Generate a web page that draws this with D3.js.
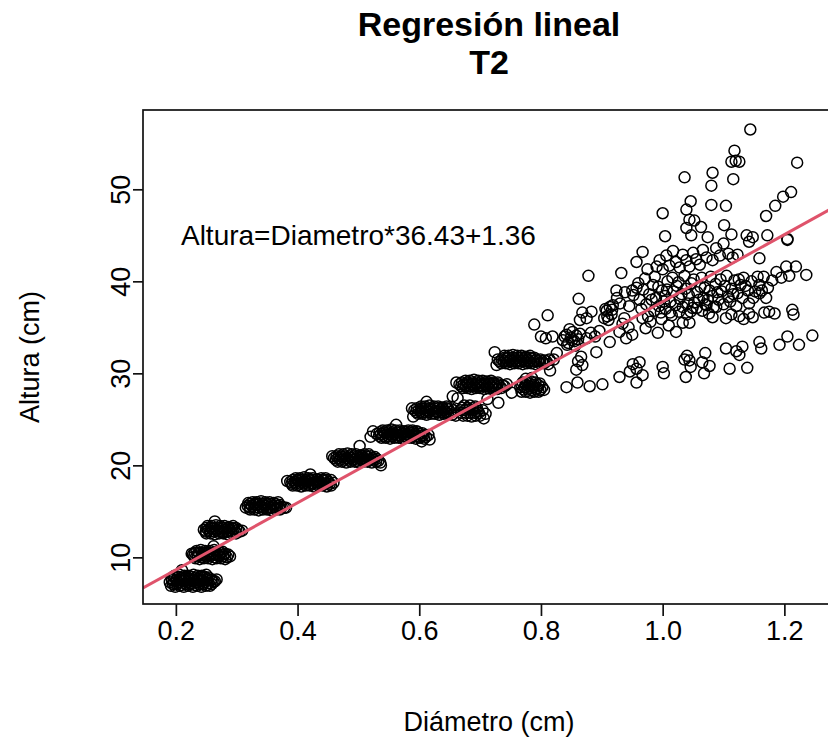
<!DOCTYPE html>
<html>
<head>
<meta charset="utf-8">
<script src="https://cdn.jsdelivr.net/npm/d3@7"></script>
<style>
  body { margin: 0; background: #fff; }
  text { font-family: "Liberation Sans", Arial, sans-serif; fill: #000; }
</style>
</head>
<body>
<div id="chart"></div>
<script>
// Diametro (cm), Altura (cm), grouped by the visible clumps
const band7 = [
  [0.192,6.9],[0.199,6.8],[0.206,6.9],[0.213,6.8],[0.220,6.9],[0.228,6.8],[0.235,6.9],[0.242,6.8],[0.249,6.9],[0.256,6.9],
  [0.195,7.1],[0.202,7.1],[0.209,7.0],[0.216,7.1],[0.224,7.1],[0.231,7.0],[0.238,7.1],[0.245,7.1],[0.252,7.0],[0.259,7.1],
  [0.190,7.3],[0.197,7.2],[0.204,7.3],[0.211,7.4],[0.219,7.3],[0.226,7.2],[0.233,7.3],[0.240,7.4],[0.247,7.3],[0.254,7.2],[0.262,7.3],
  [0.194,7.5],[0.201,7.5],[0.208,7.5],[0.215,7.5],[0.222,7.5],[0.230,7.5],[0.237,7.5],[0.244,7.5],[0.251,7.5],[0.258,7.5],[0.264,7.4],
  [0.193,7.7],[0.201,7.6],[0.208,7.7],[0.215,7.8],[0.222,7.7],[0.229,7.6],[0.237,7.7],[0.244,7.8],[0.251,7.7],[0.259,7.6],[0.267,7.6],
  [0.196,7.9],[0.204,7.9],[0.211,7.8],[0.218,7.9],[0.225,7.9],[0.233,7.8],[0.240,7.9],[0.247,7.9],[0.254,7.8],
  [0.198,8.0],[0.206,8.1],[0.214,8.0],[0.221,8.0],[0.229,8.1],[0.236,8.0],[0.243,8.0],[0.250,8.1],
  [0.210,8.6]
];
const band10 = [
  [0.232,9.9],[0.239,9.8],[0.246,9.9],[0.253,9.9],[0.260,9.8],[0.267,9.9],[0.274,9.9],[0.281,9.8],
  [0.230,10.1],[0.236,10.1],[0.243,10.0],[0.250,10.1],[0.257,10.1],[0.264,10.0],[0.271,10.1],[0.278,10.1],[0.284,10.0],
  [0.228,10.3],[0.236,10.3],[0.243,10.2],[0.250,10.3],[0.257,10.4],[0.264,10.3],[0.271,10.2],[0.278,10.3],[0.286,10.3],
  [0.231,10.5],[0.238,10.5],[0.245,10.5],[0.252,10.5],[0.260,10.5],[0.267,10.5],[0.274,10.5],[0.281,10.4],
  [0.234,10.7],[0.241,10.8],[0.248,10.7],[0.256,10.7],[0.263,10.8],[0.270,10.7],[0.277,10.6],
  [0.226,10.4],[0.289,10.1],[0.262,11.2]
];
const band13 = [
  [0.250,12.6],[0.257,12.6],[0.264,12.5],[0.271,12.6],[0.278,12.6],[0.285,12.5],[0.292,12.6],[0.299,12.6],
  [0.249,12.8],[0.256,12.8],[0.263,12.8],[0.270,12.8],[0.277,12.7],[0.284,12.8],[0.291,12.8],[0.298,12.8],[0.305,12.8],
  [0.246,13.0],[0.253,13.0],[0.260,13.1],[0.267,13.0],[0.274,12.9],[0.281,13.0],[0.288,13.0],[0.295,13.1],[0.302,13.0],[0.309,12.9],
  [0.250,13.2],[0.257,13.2],[0.264,13.2],[0.271,13.2],[0.278,13.2],[0.285,13.2],[0.292,13.2],[0.299,13.2],
  [0.252,13.4],[0.259,13.4],[0.266,13.5],[0.273,13.4],[0.280,13.4],[0.287,13.3],[0.294,13.4],
  [0.264,13.9]
];
const band15 = [
  [0.322,15.2],[0.329,15.2],[0.336,15.1],[0.343,15.2],[0.350,15.2],[0.357,15.1],[0.364,15.2],[0.371,15.2],
  [0.322,15.4],[0.329,15.4],[0.336,15.4],[0.343,15.4],[0.350,15.3],[0.357,15.4],[0.364,15.4],[0.371,15.4],[0.378,15.4],
  [0.318,15.6],[0.325,15.6],[0.332,15.7],[0.339,15.6],[0.346,15.6],[0.353,15.5],[0.360,15.6],[0.367,15.6],[0.374,15.5],[0.381,15.4],
  [0.322,15.8],[0.329,15.8],[0.336,15.8],[0.343,15.8],[0.350,15.8],[0.357,15.8],[0.364,15.8],[0.371,15.7],
  [0.326,16.0],[0.333,16.0],[0.340,16.1],[0.347,16.0],[0.354,16.0],[0.361,15.9],[0.368,16.0],
  [0.315,15.4],[0.319,15.9]
];
const band18 = [
  [0.392,17.8],[0.399,17.8],[0.406,17.7],[0.413,17.8],[0.420,17.8],[0.427,17.7],[0.434,17.8],[0.441,17.8],[0.448,17.7],[0.455,17.8],
  [0.390,18.0],[0.397,18.0],[0.404,18.0],[0.411,18.0],[0.418,17.9],[0.425,18.0],[0.432,18.0],[0.439,18.0],[0.446,18.0],[0.453,18.0],
  [0.388,18.2],[0.395,18.2],[0.402,18.3],[0.409,18.2],[0.416,18.2],[0.423,18.1],[0.430,18.2],[0.437,18.2],[0.444,18.3],[0.451,18.2],[0.459,18.1],
  [0.392,18.4],[0.399,18.4],[0.406,18.4],[0.413,18.4],[0.420,18.4],[0.427,18.4],[0.434,18.4],[0.441,18.4],[0.448,18.4],[0.455,18.4],
  [0.397,18.6],[0.404,18.6],[0.411,18.7],[0.418,18.6],[0.425,18.6],[0.432,18.5],[0.439,18.6],[0.446,18.6],
  [0.383,18.3],[0.421,19.0]
];
const band21 = [
  [0.466,20.4],[0.473,20.4],[0.480,20.3],[0.487,20.4],[0.494,20.4],[0.501,20.3],[0.508,20.4],[0.515,20.4],[0.522,20.3],[0.529,20.4],[0.536,20.3],
  [0.463,20.6],[0.470,20.6],[0.477,20.6],[0.484,20.6],[0.491,20.6],[0.498,20.5],[0.505,20.6],[0.512,20.6],[0.519,20.6],[0.526,20.6],[0.533,20.5],
  [0.460,20.8],[0.467,20.8],[0.474,20.9],[0.481,20.8],[0.488,20.8],[0.495,20.7],[0.502,20.8],[0.509,20.8],[0.516,20.9],[0.523,20.8],[0.530,20.7],
  [0.464,21.0],[0.471,21.0],[0.478,21.0],[0.485,21.0],[0.492,21.0],[0.499,21.0],[0.506,21.0],[0.513,21.0],[0.520,21.0],[0.527,20.9],
  [0.468,21.2],[0.475,21.2],[0.482,21.3],[0.489,21.2],[0.496,21.2],[0.503,21.1],[0.510,21.2],[0.517,21.2],
  [0.457,21.0],[0.502,22.1],[0.537,20.0]
];
const band23 = [
  [0.538,23.0],[0.545,23.0],[0.552,22.9],[0.559,23.0],[0.566,23.0],[0.573,22.9],[0.580,23.0],[0.587,23.0],[0.594,22.9],[0.601,23.0],[0.608,22.9],
  [0.534,23.2],[0.541,23.2],[0.548,23.2],[0.555,23.2],[0.562,23.1],[0.569,23.2],[0.576,23.2],[0.583,23.2],[0.590,23.2],[0.597,23.2],[0.604,23.2],[0.611,23.1],
  [0.530,23.4],[0.537,23.4],[0.544,23.5],[0.551,23.4],[0.558,23.4],[0.565,23.3],[0.572,23.4],[0.579,23.4],[0.586,23.5],[0.593,23.4],[0.600,23.4],[0.607,23.3],[0.615,23.3],
  [0.535,23.6],[0.542,23.6],[0.549,23.6],[0.556,23.6],[0.563,23.6],[0.570,23.6],[0.577,23.6],[0.584,23.6],[0.591,23.6],[0.598,23.6],[0.605,23.5],
  [0.540,23.8],[0.547,23.8],[0.554,23.9],[0.561,23.8],[0.568,23.8],[0.575,23.7],[0.582,23.8],[0.589,23.8],[0.596,23.7],
  [0.520,23.1],[0.524,23.7],[0.562,24.4],[0.604,22.6],[0.617,22.8]
];
const band26 = [
  [0.598,25.6],[0.605,25.6],[0.612,25.5],[0.619,25.6],[0.626,25.6],[0.633,25.5],[0.640,25.6],[0.647,25.6],[0.654,25.5],
  [0.595,25.8],[0.602,25.8],[0.609,25.8],[0.616,25.8],[0.623,25.7],[0.630,25.8],[0.637,25.8],[0.644,25.8],[0.651,25.8],
  [0.592,26.0],[0.599,26.0],[0.606,26.1],[0.613,26.0],[0.620,26.0],[0.627,25.9],[0.634,26.0],[0.641,26.0],[0.648,26.1],[0.656,26.0],
  [0.596,26.2],[0.603,26.2],[0.610,26.2],[0.617,26.2],[0.624,26.2],[0.631,26.2],[0.638,26.2],[0.645,26.2],[0.652,26.2],
  [0.603,26.4],[0.610,26.4],[0.617,26.5],[0.624,26.4],[0.631,26.4],[0.638,26.3],[0.645,26.4],
  [0.588,26.2],[0.590,25.3],[0.612,26.9],[0.660,25.4],
  [0.672,25.4],[0.679,25.4],[0.686,25.3],[0.693,25.4],[0.700,25.4],
  [0.670,25.7],[0.677,25.7],[0.684,25.7],[0.691,25.7],[0.698,25.7],
  [0.668,26.0],[0.675,26.0],[0.682,26.1],[0.689,26.0],[0.696,25.9],[0.704,26.0],
  [0.671,26.25],[0.679,26.25],[0.687,26.2],[0.695,26.2],
  [0.674,26.5],[0.683,26.5],[0.692,26.4],[0.709,25.6],[0.706,25.1]
];
const band29 = [
  [0.672,28.4],[0.679,28.4],[0.686,28.3],[0.693,28.4],[0.700,28.4],[0.707,28.3],[0.714,28.4],[0.721,28.4],[0.728,28.3],[0.735,28.4],
  [0.669,28.6],[0.676,28.6],[0.683,28.6],[0.690,28.6],[0.697,28.6],[0.704,28.6],[0.711,28.6],[0.718,28.6],[0.725,28.6],[0.732,28.6],[0.740,28.6],
  [0.666,28.8],[0.673,28.8],[0.680,28.9],[0.687,28.8],[0.694,28.8],[0.701,28.7],[0.708,28.8],[0.715,28.8],[0.722,28.9],[0.729,28.8],[0.737,28.7],[0.744,28.8],
  [0.670,29.0],[0.679,29.0],[0.687,29.0],[0.694,29.0],[0.701,29.0],[0.708,29.0],[0.715,29.0],[0.722,29.0],[0.729,29.0],
  [0.676,29.2],[0.683,29.2],[0.690,29.3],[0.697,29.2],[0.704,29.2],[0.711,29.1],[0.718,29.2],
  [0.661,29.0],[0.655,27.5],[0.663,27.3],[0.712,27.2],[0.730,26.8],
  [0.768,28.0],[0.775,28.0],[0.782,27.9],[0.789,28.0],[0.796,28.0],
  [0.771,28.25],[0.778,28.25],[0.785,28.2],[0.792,28.25],[0.799,28.2],
  [0.766,28.5],[0.773,28.5],[0.780,28.6],[0.787,28.5],[0.794,28.4],[0.802,28.5],
  [0.768,28.75],[0.775,28.75],[0.782,28.8],[0.789,28.75],[0.796,28.7],
  [0.770,29.0],[0.777,29.0],[0.784,29.1],[0.791,29.0],[0.798,28.9],
  [0.775,29.4],[0.785,29.5],[0.805,28.2],[0.752,27.9]
];
const band32 = [
  [0.735,31.1],[0.742,31.1],[0.749,31.0],[0.756,31.1],[0.763,31.1],[0.770,31.0],[0.777,31.1],[0.784,31.1],[0.791,31.0],[0.798,31.1],[0.805,31.1],[0.812,31.0],
  [0.732,31.3],[0.739,31.3],[0.746,31.3],[0.753,31.3],[0.760,31.3],[0.767,31.3],[0.774,31.3],[0.781,31.3],[0.788,31.3],[0.795,31.3],[0.802,31.3],[0.809,31.3],
  [0.729,31.5],[0.736,31.5],[0.743,31.6],[0.750,31.5],[0.757,31.5],[0.764,31.4],[0.771,31.5],[0.778,31.5],[0.785,31.6],[0.792,31.5],[0.799,31.5],[0.806,31.4],[0.814,31.5],[0.821,31.5],
  [0.740,31.7],[0.747,31.7],[0.754,31.7],[0.761,31.7],[0.768,31.7],[0.775,31.7],[0.782,31.7],[0.789,31.7],
  [0.740,31.9],[0.747,31.9],[0.754,32.0],[0.761,31.9],[0.768,31.9],[0.775,31.8],[0.782,31.9],
  [0.724,32.3],[0.727,30.9],[0.815,30.3],[0.826,32.2]
];
const midScatter = [
  [0.789,35.3],[0.800,34.0],[0.808,33.8],[0.811,36.3],[0.819,34.0],
  [0.836,33.6],[0.842,34.2],[0.845,33.3],[0.849,33.9],[0.852,34.5],[0.855,33.5],[0.858,34.1],[0.861,33.7],[0.864,34.3],
  [0.847,34.8],[0.839,34.0],[0.856,33.0],[0.843,33.1],[0.851,33.6],
  [0.864,35.8],[0.868,36.6],[0.875,36.0],[0.883,36.7],
  [0.875,33.8],[0.882,34.4],[0.889,34.0],[0.896,34.6],[0.891,32.3],[0.913,33.4],
  [0.858,30.4],[0.861,31.3],[0.866,31.8],[0.868,30.9],
  [0.904,36.0],[0.908,36.8],[0.911,35.8],[0.913,37.2],[0.916,36.4],[0.906,37.0],[0.917,36.9],[0.909,36.2],
  [0.924,39.0],[0.932,40.9],[0.950,39.0],[0.878,40.6],[0.862,38.1],
  [0.929,34.5],[0.934,35.4],[0.940,33.8],[0.944,35.0],[0.950,34.2],[0.937,36.0]
];
const lowScatter = [
  [0.842,28.5],[0.860,29.0],[0.880,28.6],[0.901,28.8],[0.929,29.6],[0.957,29.0],
  [0.946,30.2],[0.951,31.0],[0.957,30.5],[0.962,31.2],[0.967,29.8],
  [1.000,30.7],[1.002,30.0],
  [1.036,31.5],[1.040,31.9],[1.044,31.4],[1.038,29.6],[1.046,30.7],
  [1.065,31.2],[1.070,32.2],[1.077,30.8],[1.068,30.0],
  [1.104,32.7],[1.110,30.5],[1.121,32.4],[1.126,32.0],[1.131,32.9],[1.139,30.6],
  [1.159,33.4],[1.162,32.7],[1.192,33.1],[1.205,34.0],[1.224,33.1],[1.246,34.1]
];
const highBand = [
  [0.918,37.4],[0.925,38.2],[0.930,37.6],[0.938,38.8],[0.945,37.3],[0.952,38.5],[0.957,39.3],
  [0.962,38.0],[0.968,39.1],[0.973,37.5],[0.978,38.6],[0.984,39.6],[0.989,38.2],[0.994,37.3],[0.999,39.0],
  [1.004,38.4],[1.008,40.0],[1.013,37.8],[1.018,38.9],[1.023,39.5],[1.028,38.1],[1.033,37.2],[1.038,39.2],
  [1.043,38.5],[1.047,39.8],[1.052,37.7],[1.057,38.8],[1.062,39.4],[1.067,38.2],[1.072,37.4],[1.077,39.0],
  [1.082,38.4],[1.087,39.7],[1.092,38.0],[1.097,38.9],[1.102,39.5],[1.108,38.3],[1.113,39.2],[1.118,40.1],
  [1.123,38.7],[1.128,39.6],[1.133,40.4],[1.140,39.0],[1.146,40.0],[1.152,38.9],[1.159,39.6],[1.166,40.5],
  [1.173,39.3],[1.180,40.1],
  [0.960,39.8],[0.965,37.0],[0.971,40.3],[0.976,36.2],[0.982,38.0],[0.987,40.5],[0.993,39.4],[0.997,36.6],
  [1.002,37.8],[1.007,39.1],[1.012,36.6],[1.016,40.4],[1.021,37.4],[1.026,39.9],[1.031,38.6],[1.036,40.6],
  [1.041,37.6],[1.046,36.7],[1.051,40.2],[1.056,37.1],[1.060,38.0],[1.064,40.4],[1.069,39.3],[1.074,38.0],
  [1.079,40.5],[1.084,37.2],[1.090,38.8],[1.095,40.2],[1.100,37.5],[1.105,40.6],[1.111,37.8],[1.116,38.6],
  [1.121,37.3],[1.125,40.2],[1.131,38.2],[1.136,39.5],[1.149,38.2],[1.156,40.5],[1.163,39.0],[1.170,38.2],
  [0.967,36.0],[0.972,34.9],[0.980,35.6],[0.986,36.8],[0.992,34.4],[0.998,35.9],[1.005,37.0],[1.010,35.2],
  [1.015,36.3],[1.022,34.5],[1.027,36.7],[1.033,35.5],[1.040,36.4],[1.044,35.5],[1.049,37.1],
  [1.065,36.8],[1.070,37.5],[1.076,36.5],[1.082,36.1],[1.088,37.2],[1.104,36.0],[1.113,36.4],[1.126,36.2],
  [1.133,35.9],[1.142,36.5],[1.148,36.1],[1.142,37.6],[1.159,38.7],[1.167,36.6],[1.175,36.7],[1.184,36.5],
  [1.213,36.9],[1.215,36.4],
  [1.187,41.0],[1.195,40.4],[1.203,41.6],[1.208,40.6],[1.219,41.6],[1.236,40.7]
];
const topScatter = [
  [0.995,42.3],[1.000,41.3],[1.006,42.8],[1.011,41.7],[1.017,43.3],[1.022,42.1],[1.028,41.5],[1.033,42.9],
  [1.039,42.3],[1.044,41.6],[1.050,43.1],[1.055,42.4],[1.061,41.8],[1.066,43.4],[1.072,42.6],[1.082,42.3],
  [1.088,43.6],[1.094,42.8],[1.100,44.1],[1.108,43.0],[1.115,42.6],[1.123,42.9],[1.142,44.3],[1.148,44.8],
  [1.159,42.5],[1.138,45.0],[1.205,44.5],
  [0.967,43.2],[0.957,42.1],[0.975,41.3],[0.990,41.6],
  [1.144,56.5],[1.118,54.2],[1.113,53.0],[1.120,53.1],[1.126,53.0],[1.116,51.1],[1.221,52.9],
  [1.036,51.3],[1.082,51.8],[1.080,50.4],[1.046,48.7],[1.039,47.8],[1.000,47.4],[1.080,48.3],[1.104,48.2],
  [1.211,49.7],[1.198,49.2],[1.185,48.2],[1.170,47.1],[1.172,45.0],[1.205,44.6],[1.004,44.9],
  [1.044,46.7],[1.052,46.6],[1.039,45.8],[1.047,45.0],[1.063,45.9],[1.101,46.1],[1.113,45.1],[1.074,44.8]
];

const xTicks = [0.2, 0.4, 0.6, 0.8, 1.0, 1.2];
const yTicks = [10, 20, 30, 40, 50];
const slope = 36.43;
const intercept = 1.36;
const titleLines = ["Regresión lineal", "T2"];
const equationLabel = "Altura=Diametro*" + slope + "+" + intercept;

const allPoints = [].concat(band7, band10, band13, band15, band18, band21, band23,
  band26, band29, band32, midScatter, lowScatter, highBand, topScatter);

const width = 828, height = 741;
const plot = {left: 143, right: 835, top: 110, bottom: 604};

const svg = d3.select("#chart").append("svg")
  .attr("width", width)
  .attr("height", height);

const x = d3.scaleLinear().domain([0.146, 1.2832]).range([plot.left, plot.right]);
const y = d3.scaleLinear().domain([4.93, 58.62]).range([plot.bottom, plot.top]);

svg.append("defs").append("clipPath").attr("id", "plot-clip")
  .append("rect")
    .attr("x", plot.left).attr("y", plot.top)
    .attr("width", plot.right - plot.left).attr("height", plot.bottom - plot.top);

// points (R pch = 1)
svg.append("g")
  .selectAll("circle")
  .data(allPoints)
  .enter()
  .append("circle")
    .attr("cx", d => x(d[0]))
    .attr("cy", d => y(d[1]))
    .attr("r", 5.5)
    .attr("fill", "none")
    .attr("stroke", "#000")
    .attr("stroke-width", 1.5);

// fitted line
let xd = x.domain();
svg.append("line")
  .attr("clip-path", "url(#plot-clip)")
  .attr("x1", x(xd[0])).attr("y1", y(slope * xd[0] + intercept))
  .attr("x2", x(xd[1])).attr("y2", y(slope * xd[1] + intercept))
  .attr("stroke", "#DF536B")
  .attr("stroke-width", 3);

// box
svg.append("rect")
  .attr("x", plot.left).attr("y", plot.top)
  .attr("width", plot.right - plot.left).attr("height", plot.bottom - plot.top)
  .attr("fill", "none")
  .attr("stroke", "#111")
  .attr("stroke-width", 1.7);

// axes
let xAxis = svg.append("g")
  .attr("transform", "translate(0," + plot.bottom + ")")
  .call(d3.axisBottom(x).tickValues(xTicks).tickFormat(d3.format(".1f")).tickSize(12));
xAxis.select(".domain").remove();
xAxis.selectAll("line").attr("stroke", "#111").attr("stroke-width", 1.7);
xAxis.selectAll("text")
  .attr("y", 36)
  .attr("dy", null)
  .style("font-size", "27px");

let yAxis = svg.append("g")
  .attr("transform", "translate(" + plot.left + ",0)")
  .call(d3.axisLeft(y).tickValues(yTicks).tickSize(10));
yAxis.select(".domain").remove();
yAxis.selectAll("line").attr("stroke", "#111").attr("stroke-width", 1.7);
yAxis.selectAll("text")
  .attr("x", 0)
  .attr("y", -13)
  .attr("dy", null)
  .attr("transform", "rotate(-90)")
  .attr("text-anchor", "middle")
  .style("font-size", "27px");

// titles
let cx = (plot.left + plot.right) / 2;
svg.selectAll(".title")
  .data(titleLines)
  .enter()
  .append("text")
    .attr("class", "title")
    .attr("x", cx)
    .attr("y", (d, i) => 36 + i * 38)
    .attr("text-anchor", "middle")
    .style("font-size", "34px")
    .style("font-weight", "bold")
    .text(d => d);

svg.append("text")
  .attr("x", cx)
  .attr("y", 731)
  .attr("text-anchor", "middle")
  .style("font-size", "27px")
  .text("Diámetro (cm)");

svg.append("text")
  .attr("transform", "translate(39," + ((plot.top + plot.bottom) / 2) + ") rotate(-90)")
  .attr("text-anchor", "middle")
  .style("font-size", "27px")
  .text("Altura (cm)");

// equation label, centred at (0.5, 45) like R's text()
svg.append("text")
  .attr("x", x(0.5))
  .attr("y", y(45))
  .attr("dy", "0.35em")
  .attr("text-anchor", "middle")
  .style("font-size", "28px")
  .text(equationLabel);
</script>
</body>
</html>
